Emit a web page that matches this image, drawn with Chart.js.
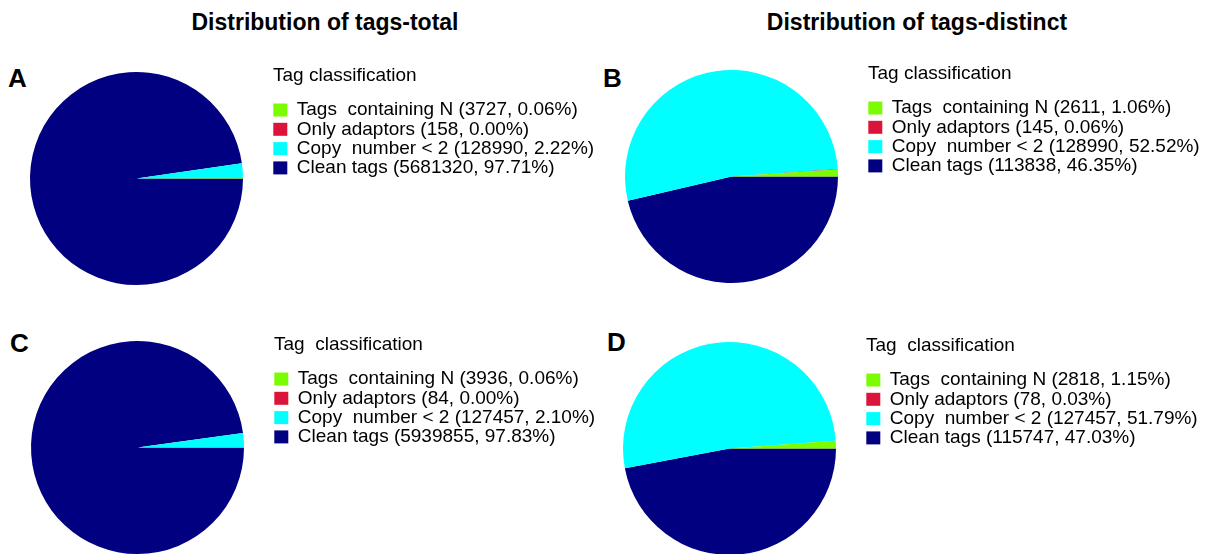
<!DOCTYPE html>
<html>
<head>
<meta charset="utf-8">
<script src="https://cdn.jsdelivr.net/npm/chart.js@4/dist/chart.umd.min.js"></script>
<style>
  body { margin: 0; width: 1214px; height: 554px; overflow: hidden; background: #fff;
         font-family: 'Liberation Sans', Arial, sans-serif; color: #000; }
  .head { position: absolute; font-weight: bold; font-size: 23px; line-height: 23px; text-align: center; }
  .tag { position: absolute; font-weight: bold; font-size: 26px; line-height: 26px; }
  canvas { position: absolute; }
</style>
</head>
<body>
<div class="head" style="left:0;top:11px;width:650px">Distribution of tags-total</div>
<div class="head" style="left:617px;top:11px;width:600px">Distribution of tags-distinct</div>

<div class="tag" style="left:8px;top:65px">A</div>
<div class="tag" style="left:603px;top:65px">B</div>
<div class="tag" style="left:10px;top:330px">C</div>
<div class="tag" style="left:607px;top:329px">D</div>

<canvas id="pieA" width="607" height="233" style="left:0;top:62px"></canvas>
<canvas id="pieB" width="607" height="233" style="left:595px;top:60px"></canvas>
<canvas id="pieC" width="607" height="233" style="left:1px;top:331px"></canvas>
<canvas id="pieD" width="607" height="233" style="left:593px;top:332px"></canvas>

<script>
// legend order, as in the figure
const categories = ['Tags  containing N', 'Only adaptors', 'Copy  number < 2', 'Clean tags'];
const colors = ['#7cfc00', '#dc143c', '#00ffff', '#000080'];

// A - total tags, sample 1
const countsA = [3727, 158, 128990, 5681320];
const pctA = [0.06, 0.00, 2.22, 97.71];
// B - distinct tags, sample 1
const countsB = [2611, 145, 128990, 113838];
const pctB = [1.06, 0.06, 52.52, 46.35];
// C - total tags, sample 2
const countsC = [3936, 84, 127457, 5939855];
const pctC = [0.06, 0.00, 2.10, 97.83];
// D - distinct tags, sample 2
const countsD = [2818, 78, 127457, 115747];
const pctD = [1.15, 0.03, 51.79, 47.03];

const fontFamily = "'Liberation Sans', Arial, sans-serif";

// fixed legend width so the pie sits in the same spot on every panel,
// and let the legend start a bit above the pie top
const legendPlacement = {
  id: 'legendPlacement',
  afterInit(chart) {
    const fit = chart.legend.fit;
    chart.legend.fit = function () {
      fit.call(this);
      this.width = 334;
    };
  },
  afterLayout(chart) {
    chart.legend.top -= 10;
  }
};

function makePie(id, counts, pct, legendTitle) {
  // the figure runs counter-clockwise from 3 o'clock, Chart.js runs clockwise,
  // so the slices go in reversed and the legend is flipped back
  const labels = categories.map((c, i) => c + ' (' + counts[i] + ', ' + pct[i].toFixed(2) + '%)').reverse();
  new Chart(document.getElementById(id), {
    type: 'pie',
    data: {
      labels: labels,
      datasets: [{
        data: counts.slice().reverse(),
        backgroundColor: colors.slice().reverse(),
        borderWidth: 0,
        hoverOffset: 0
      }]
    },
    options: {
      responsive: false,
      animation: false,
      events: [],
      rotation: 90,
      layout: { padding: { top: 10, bottom: 10 } },
      plugins: {
        tooltip: { enabled: false },
        legend: {
          position: 'right',
          align: 'start',
          reverse: true,
          labels: {
            boxWidth: 14,
            boxHeight: 13,
            padding: 0.3,
            color: '#000',
            font: { family: fontFamily, size: 19 }
          },
          title: {
            display: true,
            text: legendTitle,
            position: 'start',
            color: '#000',
            font: { family: fontFamily, size: 19 },
            padding: { top: 4.5, bottom: 10.9 }
          }
        }
      }
    },
    plugins: [legendPlacement]
  });
}

makePie('pieA', countsA, pctA, 'Tag classification');
makePie('pieB', countsB, pctB, 'Tag classification');
makePie('pieC', countsC, pctC, 'Tag  classification');
makePie('pieD', countsD, pctD, 'Tag  classification');
</script>
</body>
</html>
